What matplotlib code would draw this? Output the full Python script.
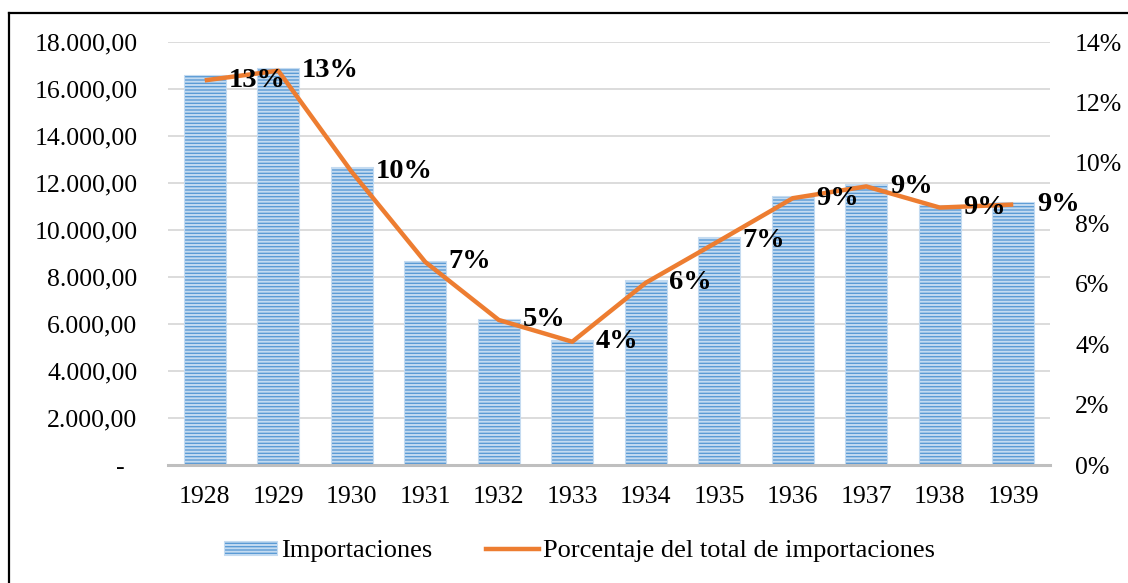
import matplotlib
matplotlib.use("Agg")
import matplotlib.pyplot as plt
from matplotlib.lines import Line2D
from matplotlib.patches import Patch
from matplotlib.ticker import FuncFormatter, MultipleLocator

years = ["1928", "1929", "1930", "1931", "1932", "1933", "1934", "1935", "1936", "1937", "1938", "1939"]
importaciones = [16600, 16880, 12670, 8690, 6200, 5320, 7870, 9700, 11450, 11960, 11060, 11180]
porcentaje = [12.73, 13.05, 9.70, 6.72, 4.80, 4.08, 6.03, 7.42, 8.83, 9.22, 8.52, 8.62]

plt.rcParams['font.family'] = ['Liberation Serif', 'DejaVu Serif']
plt.rcParams['hatch.linewidth'] = 1.4

BLUE = '#5B9BD5'
STRIPE = '#C4DBF1'
ORANGE = '#ED7D31'
GRID = '#D9D9D9'

fig = plt.figure(figsize=(11.28, 5.83), dpi=100)
ax = fig.add_axes([168/1128, 1-465/583, (1050-168)/1128, (465-42)/583])
ax2 = ax.twinx()

x = list(range(len(years)))
ax.bar(x, importaciones, width=0.57, color=BLUE, edgecolor=STRIPE, linewidth=0.8,
       hatch='-----', zorder=2)
ax.set_xlim(-0.5, len(years) - 0.5)
ax.set_ylim(0, 18000)
ax.yaxis.set_major_locator(MultipleLocator(2000))

def fmt_left(v, pos):
    if v == 0:
        return '-  '
    return f"{v:,.2f}".replace(',', 'X').replace('.', ',').replace('X', '.')

ax.yaxis.set_major_formatter(FuncFormatter(fmt_left))
ax.grid(axis='y', color=GRID, linewidth=1.3, zorder=0)
ax.set_axisbelow(True)
for s in ['top', 'right', 'left']:
    ax.spines[s].set_visible(False)
ax.spines['bottom'].set_color('#BFBFBF')
ax.spines['bottom'].set_linewidth(2.2)
ax.spines['bottom'].set_zorder(3)
ax.set_xticks(x)
ax.set_xticklabels(years)
ax.tick_params(axis='x', length=0, pad=15, labelsize=18.5)
ax.tick_params(axis='y', length=0, pad=22, labelsize=18.5)

ax2.plot(x, porcentaje, color=ORANGE, linewidth=3.2, solid_capstyle='butt', zorder=3)
ax2.set_ylim(0, 14)
ax2.yaxis.set_major_locator(MultipleLocator(2))
ax2.yaxis.set_major_formatter(FuncFormatter(lambda v, p: f"{v:.0f}%"))
ax2.tick_params(axis='y', length=0, pad=18, labelsize=18.5)
for s in ['top', 'right', 'left', 'bottom']:
    ax2.spines[s].set_visible(False)

for xi, v in zip(x, porcentaje):
    ax2.annotate(f"{round(v):.0f}%", (xi, v), xytext=(17, 0), textcoords='offset points',
                 ha='left', va='center', fontsize=20.5, fontweight='bold', color='black', zorder=4)

handles = [Patch(facecolor=BLUE, edgecolor=STRIPE, hatch='-----', linewidth=0.8),
           Line2D([0], [0], color=ORANGE, linewidth=3.2)]
fig.legend(handles, ['Importaciones', 'Porcentaje del total de importaciones'],
           loc='center', bbox_to_anchor=(0.514, 1-551/583), ncol=2, frameon=False,
           fontsize=19, handlelength=2.0, handletextpad=0.15, columnspacing=2.05,
           handleheight=0.45)

fig.add_artist(Line2D([9/1128, 9/1128], [0, 1-13/583], color='black', linewidth=1.6,
                      transform=fig.transFigure))
fig.add_artist(Line2D([9/1128, 1], [1-13/583, 1-13/583], color='black', linewidth=1.6,
                      transform=fig.transFigure))

fig.savefig('out.png', dpi=100)
